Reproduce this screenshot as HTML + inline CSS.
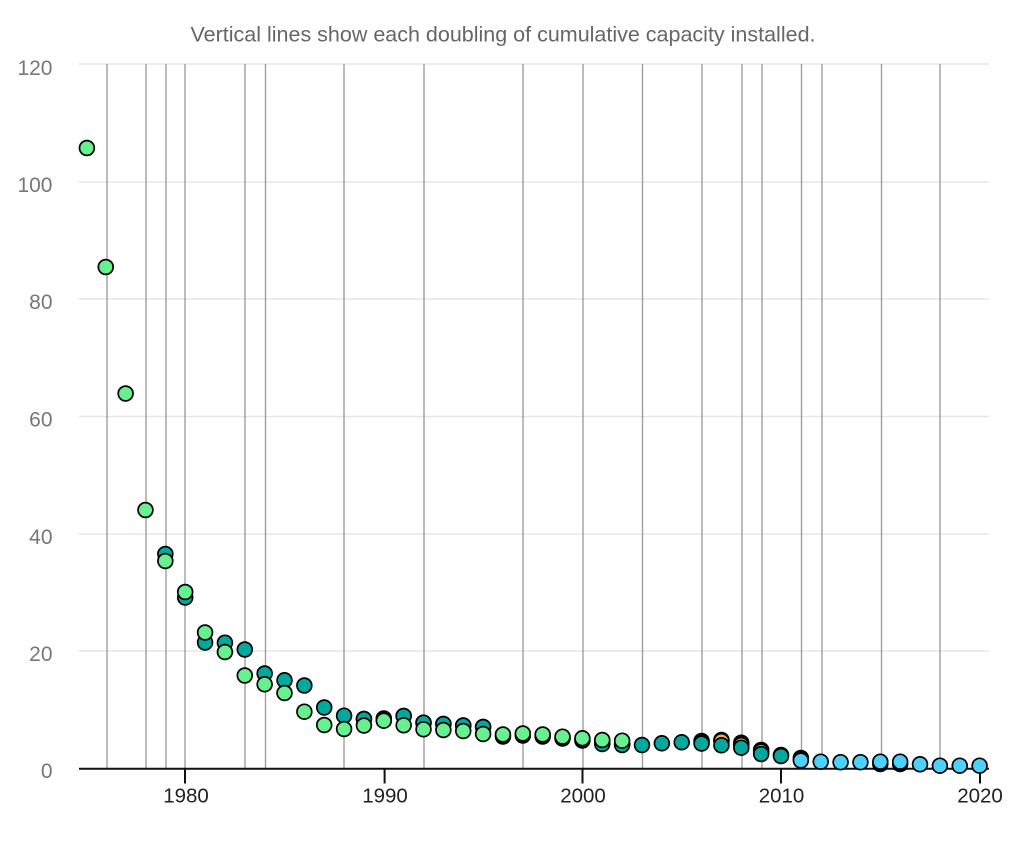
<!DOCTYPE html>
<html><head><meta charset="utf-8"><style>
html,body{margin:0;padding:0;background:#fff;}
svg{display:block;font-family:"Liberation Sans",Arial,sans-serif;}
circle{}
</style></head><body>
<svg width="1024" height="853" viewBox="0 0 1024 853" xmlns="http://www.w3.org/2000/svg">
<rect width="1024" height="853" fill="#fff"/>
<text x="503" y="41.5" text-anchor="middle" font-size="21.5" fill="#666" textLength="625" lengthAdjust="spacingAndGlyphs">Vertical lines show each doubling of cumulative capacity installed.</text>
<g stroke="#e5e5e5" stroke-width="1.6">
<line x1="79" x2="989" y1="64" y2="64"/>
<line x1="79" x2="989" y1="182" y2="182"/>
<line x1="79" x2="989" y1="299" y2="299"/>
<line x1="79" x2="989" y1="416.5" y2="416.5"/>
<line x1="79" x2="989" y1="534" y2="534"/>
<line x1="79" x2="989" y1="651" y2="651"/>
</g>
<g font-size="21" fill="#777" text-anchor="end">
<text x="52.5" y="75">120</text>
<text x="52.5" y="192">100</text>
<text x="52.5" y="309">80</text>
<text x="52.5" y="426.5">60</text>
<text x="52.5" y="544">40</text>
<text x="52.5" y="661">20</text>
<text x="52.5" y="778">0</text>
</g>
<g stroke="#9e9e9e" stroke-width="1.4">
<line x1="107" x2="107" y1="64" y2="769"/>
<line x1="146" x2="146" y1="64" y2="769"/>
<line x1="166" x2="166" y1="64" y2="769"/>
<line x1="185" x2="185" y1="64" y2="769"/>
<line x1="245" x2="245" y1="64" y2="769"/>
<line x1="265.5" x2="265.5" y1="64" y2="769"/>
<line x1="344" x2="344" y1="64" y2="769"/>
<line x1="424" x2="424" y1="64" y2="769"/>
<line x1="523" x2="523" y1="64" y2="769"/>
<line x1="583" x2="583" y1="64" y2="769"/>
<line x1="642.5" x2="642.5" y1="64" y2="769"/>
<line x1="702" x2="702" y1="64" y2="769"/>
<line x1="742" x2="742" y1="64" y2="769"/>
<line x1="762" x2="762" y1="64" y2="769"/>
<line x1="801.5" x2="801.5" y1="64" y2="769"/>
<line x1="822" x2="822" y1="64" y2="769"/>
<line x1="881.5" x2="881.5" y1="64" y2="769"/>
<line x1="940" x2="940" y1="64" y2="769"/>
</g>
<g stroke="#111" stroke-width="2">
<line x1="79" x2="989" y1="768.7" y2="768.7"/>
<line x1="185" x2="185" y1="768" y2="783.5"/>
<line x1="384.6" x2="384.6" y1="768" y2="783.5"/>
<line x1="582.5" x2="582.5" y1="768" y2="783.5"/>
<line x1="781" x2="781" y1="768" y2="783.5"/>
<line x1="980" x2="980" y1="768" y2="783.5"/>
</g>
<g font-size="20.5" fill="#222" text-anchor="middle">
<text x="186" y="802.3">1980</text>
<text x="385" y="802.3">1990</text>
<text x="583" y="802.3">2000</text>
<text x="781.5" y="802.3">2010</text>
<text x="980" y="802.3">2020</text>
</g>
<!-- black series -->
<g fill="#111" stroke="#000" stroke-width="1.7">
<circle cx="363.94" cy="719" r="7.4"/>
<circle cx="383.8" cy="718.5" r="7.4"/>
<circle cx="403.66" cy="716" r="7.4"/>
<circle cx="423.52" cy="722.7" r="7.4"/>
<circle cx="443.38" cy="724" r="7.4"/>
<circle cx="463.24" cy="725.5" r="7.4"/>
<circle cx="483.1" cy="727" r="7.4"/>
<circle cx="502.96" cy="736.5" r="7.4"/>
<circle cx="522.82" cy="735.5" r="7.4"/>
<circle cx="542.68" cy="736.5" r="7.4"/>
<circle cx="562.54" cy="738.5" r="7.4"/>
<circle cx="582.4" cy="740.5" r="7.4"/>
<circle cx="602.26" cy="742" r="7.4"/>
<circle cx="622.12" cy="744" r="7.4"/>
<circle cx="701.56" cy="741" r="7.4"/>
<circle cx="721.42" cy="740" r="7.4"/>
<circle cx="741.28" cy="742.7" r="7.4"/>
<circle cx="761.14" cy="750" r="7.4"/>
<circle cx="781" cy="755" r="7.4"/>
<circle cx="800.86" cy="758" r="7.4"/>
<circle cx="880.3" cy="764" r="7.4"/>
<circle cx="900.16" cy="764" r="7.4"/>
</g>
<!-- orange -->
<g fill="#f5b041" stroke="#000" stroke-width="1.7">
<circle cx="721.42" cy="741" r="7.4"/>
</g>
<!-- yellow -->
<g fill="#f0d34a" stroke="#000" stroke-width="1.7">
<circle cx="741.28" cy="745" r="7.4"/>
<circle cx="761.14" cy="751.5" r="7.4"/>
</g>
<!-- teal -->
<g fill="#00a99d" stroke="#000" stroke-width="1.7">
<circle cx="165.34" cy="554" r="7.4"/>
<circle cx="185.2" cy="597.5" r="7.4"/>
<circle cx="205.06" cy="642.5" r="7.4"/>
<circle cx="224.92" cy="642.7" r="7.4"/>
<circle cx="244.78" cy="649.5" r="7.4"/>
<circle cx="264.64" cy="673.5" r="7.4"/>
<circle cx="284.5" cy="680.3" r="7.4"/>
<circle cx="304.36" cy="685.5" r="7.4"/>
<circle cx="324.22" cy="707.5" r="7.4"/>
<circle cx="344.08" cy="715.7" r="7.4"/>
<circle cx="363.94" cy="719" r="7.4"/>
<circle cx="403.66" cy="716" r="7.4"/>
<circle cx="423.52" cy="722.7" r="7.4"/>
<circle cx="443.38" cy="724" r="7.4"/>
<circle cx="463.24" cy="725.5" r="7.4"/>
<circle cx="483.1" cy="727" r="7.4"/>
<circle cx="602.26" cy="744" r="7.4"/>
<circle cx="622.12" cy="745" r="7.4"/>
<circle cx="641.98" cy="745" r="7.4"/>
<circle cx="661.84" cy="743.3" r="7.4"/>
<circle cx="681.7" cy="742.3" r="7.4"/>
<circle cx="701.56" cy="743.5" r="7.4"/>
<circle cx="721.42" cy="745.3" r="7.4"/>
<circle cx="741.28" cy="747.7" r="7.4"/>
<circle cx="761.14" cy="754" r="7.4"/>
<circle cx="781" cy="756" r="7.4"/>
</g>
<!-- green -->
<g fill="#66f090" stroke="#000" stroke-width="1.7">
<circle cx="86.9" cy="148" r="7.4"/>
<circle cx="105.76" cy="267" r="7.4"/>
<circle cx="125.62" cy="393.5" r="7.4"/>
<circle cx="145.48" cy="510" r="7.4"/>
<circle cx="165.34" cy="561" r="7.4"/>
<circle cx="185.2" cy="592" r="7.4"/>
<circle cx="205.06" cy="632.5" r="7.4"/>
<circle cx="224.92" cy="652" r="7.4"/>
<circle cx="244.78" cy="675.5" r="7.4"/>
<circle cx="264.64" cy="684.3" r="7.4"/>
<circle cx="284.5" cy="693" r="7.4"/>
<circle cx="304.36" cy="711.7" r="7.4"/>
<circle cx="324.22" cy="725" r="7.4"/>
<circle cx="344.08" cy="729" r="7.4"/>
<circle cx="363.94" cy="725.5" r="7.4"/>
<circle cx="383.8" cy="720.7" r="7.4"/>
<circle cx="403.66" cy="725.3" r="7.4"/>
<circle cx="423.52" cy="729.3" r="7.4"/>
<circle cx="443.38" cy="730" r="7.4"/>
<circle cx="463.24" cy="731" r="7.4"/>
<circle cx="483.1" cy="734" r="7.4"/>
<circle cx="502.96" cy="734.5" r="7.4"/>
<circle cx="522.82" cy="733.5" r="7.4"/>
<circle cx="542.68" cy="734.5" r="7.4"/>
<circle cx="562.54" cy="736.7" r="7.4"/>
<circle cx="582.4" cy="738.3" r="7.4"/>
<circle cx="602.26" cy="740" r="7.4"/>
<circle cx="622.12" cy="740.7" r="7.4"/>
</g>
<!-- blue -->
<g fill="#4dd0fa" stroke="#000" stroke-width="1.7">
<circle cx="800.86" cy="760.5" r="7.4"/>
<circle cx="820.72" cy="761.7" r="7.4"/>
<circle cx="840.58" cy="762.2" r="7.4"/>
<circle cx="860.44" cy="762.2" r="7.4"/>
<circle cx="880.3" cy="761.7" r="7.4"/>
<circle cx="900.16" cy="761.7" r="7.4"/>
<circle cx="920.02" cy="764.3" r="7.4"/>
<circle cx="939.88" cy="765.7" r="7.4"/>
<circle cx="959.74" cy="765.7" r="7.4"/>
<circle cx="979.6" cy="765.7" r="7.4"/>
</g>
</svg>
</body></html>
